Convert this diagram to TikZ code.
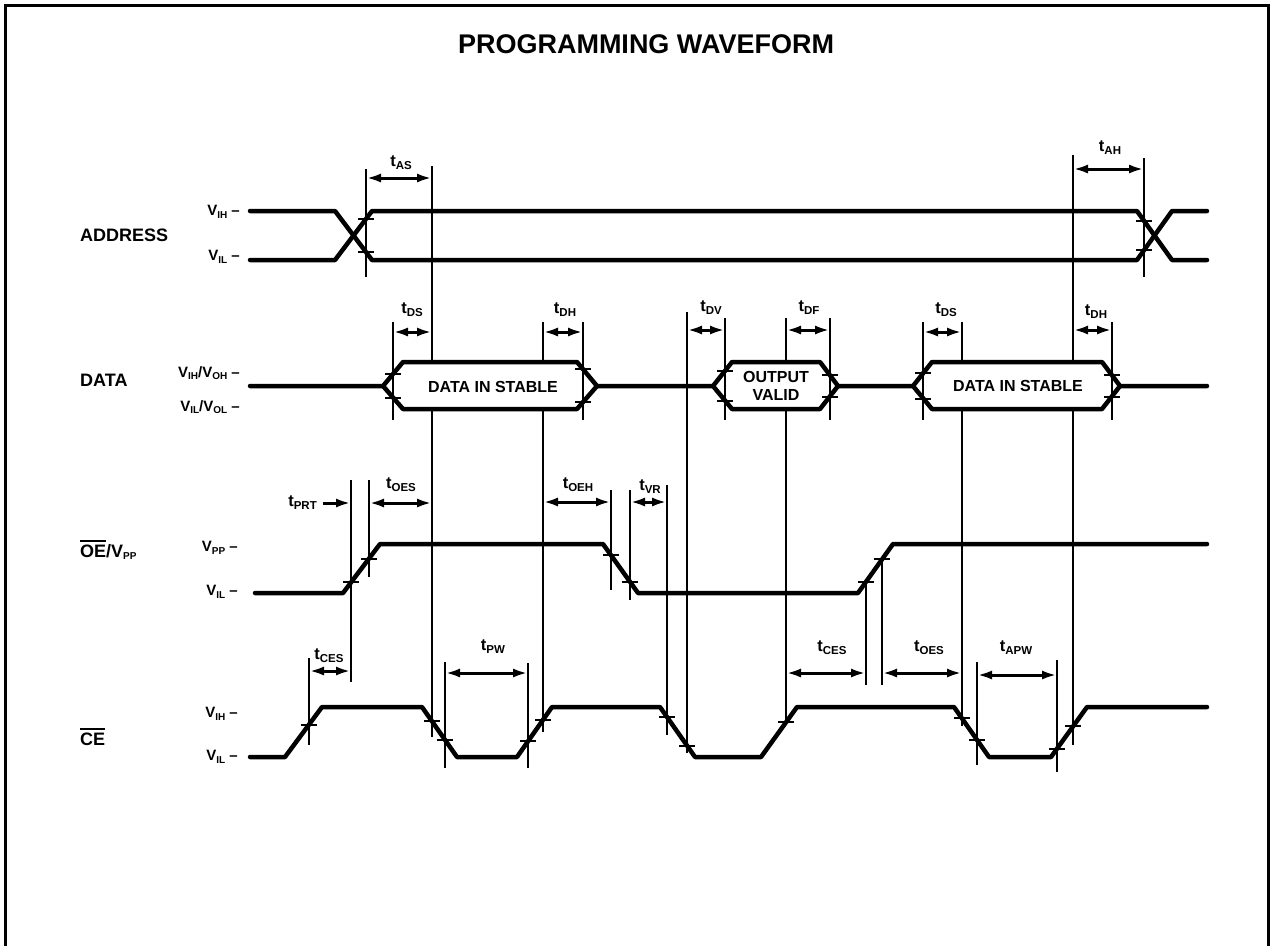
\documentclass[tikz,border=0pt]{standalone}
\usepackage{fontspec}
\setmainfont{Liberation Sans}
\usetikzlibrary{arrows.meta}
\newcommand\tsb[1]{t\raisebox{-3pt}{\fontsize{11.5}{11.5}\selectfont #1}}
\newcommand\vsb[1]{V\raisebox{-2.5pt}{\fontsize{10}{10}\selectfont #1}}
\newcommand\ovl[1]{\vbox{\hrule height 2pt\kern 2.5pt\hbox{#1}}}
\tikzset{
  sig/.style={line width=4.5pt, line cap=round, line join=round},
  vl/.style={line width=2.8pt},
  tk/.style={line width=2.8pt},
  dim/.style={line width=3pt, {Latex[length=15pt,width=9pt]}-{Latex[length=15pt,width=9pt]}},
  onedim/.style={line width=3pt, -{Latex[length=15pt,width=9pt]}},
  tlbl/.style={font=\fontsize{16.5}{16.5}\selectfont\bfseries, inner sep=0pt},
  vlbl/.style={font=\fontsize{15}{15}\selectfont\bfseries, inner sep=0pt, anchor=east},
  signame/.style={font=\fontsize{18}{18}\selectfont\bfseries, inner sep=0pt},
  hexlbl/.style={font=\fontsize{16}{18}\selectfont\bfseries, inner sep=0pt, align=center},
  titlelbl/.style={font=\fontsize{27}{27}\selectfont\bfseries, inner sep=0pt},
  framestyle/.style={line width=3pt}
}
\begin{document}
\begin{tikzpicture}[x=1pt,y=-1pt]
\useasboundingbox (0,0) rectangle (1274,946);
% frame
\draw[framestyle] (5,946) -- (5,5) -- (1268,5) -- (1268,946);
% title
\node[titlelbl] (title) at (646,44) {PROGRAMMING WAVEFORM};

% signal names
\node[signame, anchor=west] (naddr) at (80,235) {ADDRESS};
\node[vlbl] (a1) at (240,212) {\vsb{IH} --};
\node[vlbl] (a2) at (240,257) {\vsb{IL} --};
\node[signame, anchor=west] (ndata) at (80,380) {DATA};
\node[vlbl] (d1) at (240,373) {\vsb{IH}/\vsb{OH} --};
\node[vlbl] (d2) at (240,407) {\vsb{IL}/\vsb{OL} --};
\node[signame, anchor=west] (noe) at (80,550) {\ovl{OE}/\vsb{PP}};
\node[vlbl] (o1) at (238,548) {\vsb{PP} --};
\node[vlbl] (o2) at (238,592) {\vsb{IL} --};
\node[signame, anchor=west] (nce) at (80,737) {\ovl{CE}};
\node[vlbl] (c1) at (238,714) {\vsb{IH} --};
\node[vlbl] (c2) at (238,757) {\vsb{IL} --};

% waveforms
\draw[sig] (250,211) -- (335,211) -- (372,260) -- (1137,260) -- (1172,211) -- (1207,211);
\draw[sig] (250,260) -- (335,260) -- (372,211) -- (1137,211) -- (1172,260) -- (1207,260);

\draw[sig] (250,386) -- (383,386) -- (403,362) -- (577,362) -- (597,386) -- (713,386) -- (732,362) -- (820,362) -- (838,386) -- (913,386) -- (932,362) -- (1102,362) -- (1120,386) -- (1207,386);
\draw[sig] (383,386) -- (403,409) -- (577,409) -- (597,386);
\draw[sig] (713,386) -- (732,409) -- (820,409) -- (838,386);
\draw[sig] (913,386) -- (932,409) -- (1102,409) -- (1120,386);

\draw[sig] (255,593) -- (343,593) -- (380,544) -- (603,544) -- (638,593) -- (858,593) -- (893,544) -- (1207,544);

\draw[sig] (250,757) -- (285,757) -- (322,707) -- (422,707) -- (457,757) -- (517,757) -- (552,707) -- (660,707) -- (695,757) -- (761,757) -- (797,707) -- (954,707) -- (989,757) -- (1051,757) -- (1087,707) -- (1207,707);

% hex texts
\node[hexlbl] (h1) at (493,387) {DATA IN STABLE};
\node[hexlbl] (h2) at (776,386) {OUTPUT\\VALID};
\node[hexlbl] (h3) at (1018,386) {DATA IN STABLE};

% ticks
\foreach \x/\y in {366/219,366/252,1144/221,1144/250,
  393/374,393/398,583/369,583/402,725/371,725/401,830/375,830/397,923/373,923/399,1112/375,1112/397,
  351/582,369/559,611/555,630/582,866/582,882/559,
  309/725,432/721,445/740,528/741,543/720,667/717,687/746,786/722,962/718,977/740,1057/749,1073/726}
  \draw[tk] (\x-8,\y) -- (\x+8,\y);

% vertical reference lines (long ones broken inside the data boxes)
\foreach \x/\ya/\yb in {366/169/277,432/166/362,432/409/737,1073/155/362,1073/409/745,1144/158/277,
  393/322/420,583/322/420,543/322/362,543/409/732,687/312/753,725/318/420,786/318/362,786/409/722,830/318/420,923/322/420,962/322/362,962/409/726,1112/322/420,
  351/480/682,369/480/577,611/490/590,630/490/600,667/485/735,866/583/685,882/560/685,
  309/658/745,445/662/768,528/663/768,977/662/765,1057/660/772}
  \draw[vl] (\x,\ya) -- (\x,\yb);

% dimension arrows
\coordinate (asL) at (366,178); \coordinate (asR) at (432,178);
\draw[dim] (asL) -- (asR); \node[tlbl] (tas) at (401,163) {\tsb{AS}};
\coordinate (ahL) at (1073,169); \coordinate (ahR) at (1144,169);
\draw[dim] (ahL) -- (ahR); \node[tlbl] (tah) at (1110,148) {\tsb{AH}};

\coordinate (ds1L) at (393,332); \coordinate (ds1R) at (432,332);
\draw[dim] (ds1L) -- (ds1R); \node[tlbl] (tds1) at (412,310) {\tsb{DS}};
\coordinate (dh1L) at (543,332); \coordinate (dh1R) at (583,332);
\draw[dim] (dh1L) -- (dh1R); \node[tlbl] (tdh1) at (565,310) {\tsb{DH}};
\coordinate (dvL) at (687,330); \coordinate (dvR) at (725,330);
\draw[dim] (dvL) -- (dvR); \node[tlbl] (tdv) at (711,308) {\tsb{DV}};
\coordinate (dfL) at (786,330); \coordinate (dfR) at (830,330);
\draw[dim] (dfL) -- (dfR); \node[tlbl] (tdf) at (809,308) {\tsb{DF}};
\coordinate (ds2L) at (923,332); \coordinate (ds2R) at (962,332);
\draw[dim] (ds2L) -- (ds2R); \node[tlbl] (tds2) at (946,310) {\tsb{DS}};
\coordinate (dh2L) at (1073,330); \coordinate (dh2R) at (1112,330);
\draw[dim] (dh2L) -- (dh2R); \node[tlbl] (tdh2) at (1096,312) {\tsb{DH}};

\coordinate (prtA) at (323,503); \coordinate (prtB) at (351,503);
\draw[onedim] (prtA) -- (prtB); \node[tlbl, anchor=east] (tprt) at (317,503) {\tsb{PRT}};
\coordinate (oes1L) at (369,503); \coordinate (oes1R) at (432,503);
\draw[dim] (oes1L) -- (oes1R); \node[tlbl] (toes1) at (401,485) {\tsb{OES}};
\coordinate (oehL) at (543,502); \coordinate (oehR) at (611,502);
\draw[dim] (oehL) -- (oehR); \node[tlbl] (toeh) at (578,485) {\tsb{OEH}};
\coordinate (vrL) at (630,502); \coordinate (vrR) at (667,502);
\draw[dim] (vrL) -- (vrR); \node[tlbl] (tvr) at (650,487) {\tsb{VR}};

\coordinate (ces1L) at (309,671); \coordinate (ces1R) at (351,671);
\draw[dim] (ces1L) -- (ces1R); \node[tlbl] (tces1) at (329,656) {\tsb{CES}};
\coordinate (pwL) at (445,673); \coordinate (pwR) at (528,673);
\draw[dim] (pwL) -- (pwR); \node[tlbl] (tpw) at (493,647) {\tsb{PW}};
\coordinate (ces2L) at (786,673); \coordinate (ces2R) at (866,673);
\draw[dim] (ces2L) -- (ces2R); \node[tlbl] (tces2) at (832,648) {\tsb{CES}};
\coordinate (oes2L) at (882,673); \coordinate (oes2R) at (962,673);
\draw[dim] (oes2L) -- (oes2R); \node[tlbl] (toes2) at (929,648) {\tsb{OES}};
\coordinate (apwL) at (977,675); \coordinate (apwR) at (1057,675);
\draw[dim] (apwL) -- (apwR); \node[tlbl] (tapw) at (1016,648) {\tsb{APW}};
\end{tikzpicture}
\end{document}
